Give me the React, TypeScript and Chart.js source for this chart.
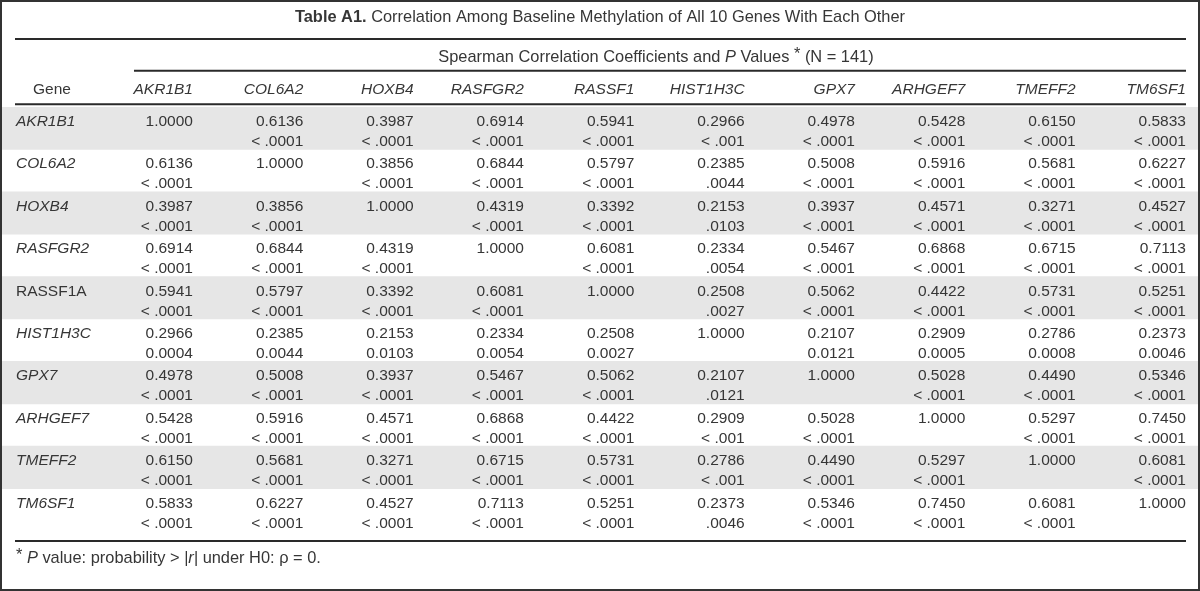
import React, { useEffect, useRef } from 'react';
import { Chart, registerables } from 'chart.js';

Chart.register(...registerables);

// ---------- data ----------
const genes = ['AKR1B1', 'COL6A2', 'HOXB4', 'RASFGR2', 'RASSF1A', 'HIST1H3C', 'GPX7', 'ARHGEF7', 'TMEFF2', 'TM6SF1'];
const columnHeaders = ['AKR1B1', 'COL6A2', 'HOXB4', 'RASFGR2', 'RASSF1', 'HIST1H3C', 'GPX7', 'ARHGEF7', 'TMEFF2', 'TM6SF1'];

const rAKR1B1 = [1.0, 0.6136, 0.3987, 0.6914, 0.5941, 0.2966, 0.4978, 0.5428, 0.615, 0.5833];
const rCOL6A2 = [0.6136, 1.0, 0.3856, 0.6844, 0.5797, 0.2385, 0.5008, 0.5916, 0.5681, 0.6227];
const rHOXB4 = [0.3987, 0.3856, 1.0, 0.4319, 0.3392, 0.2153, 0.3937, 0.4571, 0.3271, 0.4527];
const rRASFGR2 = [0.6914, 0.6844, 0.4319, 1.0, 0.6081, 0.2334, 0.5467, 0.6868, 0.6715, 0.7113];
const rRASSF1A = [0.5941, 0.5797, 0.3392, 0.6081, 1.0, 0.2508, 0.5062, 0.4422, 0.5731, 0.5251];
const rHIST1H3C = [0.2966, 0.2385, 0.2153, 0.2334, 0.2508, 1.0, 0.2107, 0.2909, 0.2786, 0.2373];
const rGPX7 = [0.4978, 0.5008, 0.3937, 0.5467, 0.5062, 0.2107, 1.0, 0.5028, 0.449, 0.5346];
const rARHGEF7 = [0.5428, 0.5916, 0.4571, 0.6868, 0.4422, 0.2909, 0.5028, 1.0, 0.5297, 0.745];
const rTMEFF2 = [0.615, 0.5681, 0.3271, 0.6715, 0.5731, 0.2786, 0.449, 0.5297, 1.0, 0.6081];
const rTM6SF1 = [0.5833, 0.6227, 0.4527, 0.7113, 0.5251, 0.2373, 0.5346, 0.745, 0.6081, 1.0];

const L4 = '< .0001';
const L3 = '< .001';
const pAKR1B1 = ['', L4, L4, L4, L4, L3, L4, L4, L4, L4];
const pCOL6A2 = [L4, '', L4, L4, L4, '.0044', L4, L4, L4, L4];
const pHOXB4 = [L4, L4, '', L4, L4, '.0103', L4, L4, L4, L4];
const pRASFGR2 = [L4, L4, L4, '', L4, '.0054', L4, L4, L4, L4];
const pRASSF1A = [L4, L4, L4, L4, '', '.0027', L4, L4, L4, L4];
const pHIST1H3C = ['0.0004', '0.0044', '0.0103', '0.0054', '0.0027', '', '0.0121', '0.0005', '0.0008', '0.0046'];
const pGPX7 = [L4, L4, L4, L4, L4, '.0121', '', L4, L4, L4];
const pARHGEF7 = [L4, L4, L4, L4, L4, L3, L4, '', L4, L4];
const pTMEFF2 = [L4, L4, L4, L4, L4, L3, L4, L4, '', L4];
const pTM6SF1 = [L4, L4, L4, L4, L4, '.0046', L4, L4, L4, ''];

const coefRows = [rAKR1B1, rCOL6A2, rHOXB4, rRASFGR2, rRASSF1A, rHIST1H3C, rGPX7, rARHGEF7, rTMEFF2, rTM6SF1];
const pRows = [pAKR1B1, pCOL6A2, pHOXB4, pRASFGR2, pRASSF1A, pHIST1H3C, pGPX7, pARHGEF7, pTMEFF2, pTM6SF1];

const TITLE_BOLD = 'Table A1.';
const TITLE_REST = ' Correlation Among Baseline Methylation of All 10 Genes With Each Other';
const N_SAMPLES = 141;

// axis limits (column k's right edge sits at value k)
const X_MIN = -0.731;
const X_MAX = 10.109;

// ---------- drawing helpers ----------
const FAMILY = '"Liberation Sans", Arial, Helvetica, sans-serif';
const FS = 15.5;
const FS_TEXT = 16.4;
const TEXT = '#363636';
const RULE = '#2a2a2a';
const SHADE = '#e6e6e6';

type Part = { t: string; s?: 'normal' | 'italic' | 'bold'; sup?: boolean };

function fontOf(p: Part, size: number) {
  if (p.s === 'bold') return `bold ${size}px ${FAMILY}`;
  if (p.s === 'italic') return `italic ${size}px ${FAMILY}`;
  return `${size}px ${FAMILY}`;
}

function drawParts(
  ctx: CanvasRenderingContext2D,
  parts: Part[],
  x: number,
  y: number,
  align: 'left' | 'center' | 'right',
  size = FS
) {
  let total = 0;
  parts.forEach((p) => {
    ctx.font = fontOf(p, size);
    total += ctx.measureText(p.t).width;
  });
  let cx = align === 'center' ? x - total / 2 : align === 'right' ? x - total : x;
  ctx.textAlign = 'left';
  ctx.textBaseline = 'middle';
  ctx.fillStyle = TEXT;
  parts.forEach((p) => {
    ctx.font = fontOf(p, size);
    ctx.fillText(p.t, cx, y + (p.sup ? -3 : 0));
    cx += ctx.measureText(p.t).width;
  });
}

function rule(ctx: CanvasRenderingContext2D, x1: number, x2: number, y: number, w = 2) {
  ctx.save();
  ctx.strokeStyle = RULE;
  ctx.lineWidth = w;
  ctx.beginPath();
  ctx.moveTo(x1, y);
  ctx.lineTo(x2, y);
  ctx.stroke();
  ctx.restore();
}

const tablePlugin = {
  id: 'tableText',
  afterDraw(chart: any) {
    const { ctx, chartArea } = chart;
    const xs = chart.scales.x;
    const ys = chart.scales.y;
    const top = chartArea.top;
    const bottom = chartArea.bottom;
    const L = chartArea.left + 13;
    const R = chartArea.right - 12;
    ctx.save();

    // title
    drawParts(ctx, [{ t: TITLE_BOLD, s: 'bold' }, { t: TITLE_REST }], chart.width / 2, top - 89.5, 'center', FS_TEXT);
    rule(ctx, L, R, top - 68);

    // spanner header
    const spanL = xs.getPixelForValue(1) - 59;
    drawParts(
      ctx,
      [
        { t: 'Spearman Correlation Coefficients and ' },
        { t: 'P', s: 'italic' },
        { t: ' Values ' },
        { t: '*', sup: true },
        { t: ` (N = ${N_SAMPLES})` },
      ],
      (spanL + R) / 2 - 4,
      top - 50,
      'center',
      FS_TEXT
    );
    rule(ctx, spanL, R, top - 36.3);

    // column headers
    drawParts(ctx, [{ t: 'Gene' }], L + 18, top - 17.7, 'left');
    columnHeaders.forEach((h, j) => {
      drawParts(ctx, [{ t: h, s: 'italic' }], xs.getPixelForValue(j + 1), top - 17.7, 'right');
    });
    rule(ctx, L, R, top - 2.7);

    // cells
    const band = ys.getPixelForValue(1) - ys.getPixelForValue(0);
    genes.forEach((g, i) => {
      const c = ys.getPixelForValue(i);
      const y1 = c - band / 2 + 14.7;
      const y2 = y1 + 20;
      coefRows[i].forEach((v, j) => {
        const x = xs.getPixelForValue(j + 1);
        drawParts(ctx, [{ t: v.toFixed(4) }], x, y1, 'right');
        const p = pRows[i][j];
        if (p) drawParts(ctx, [{ t: p }], x, y2, 'right');
      });
    });

    // bottom rule + footnote
    rule(ctx, L, R, bottom + 10);
    drawParts(
      ctx,
      [
        { t: '*', sup: true },
        { t: ' ' },
        { t: 'P', s: 'italic' },
        { t: ' value: probability > ' },
        { t: '|r|', s: 'italic' },
        { t: ' under H0: ρ = 0.' },
      ],
      L + 1,
      bottom + 27,
      'left',
      FS_TEXT
    );

    // frame
    ctx.strokeStyle = '#333';
    ctx.lineWidth = 2;
    ctx.strokeRect(1, 1, chart.width - 2, chart.height - 2);
    ctx.restore();
  },
};

export default function App() {
  const ref = useRef<HTMLCanvasElement | null>(null);

  useEffect(() => {
    document.body.style.margin = '0';
    if (!ref.current) return;
    const chart = new Chart(ref.current, {
      type: 'bar',
      data: {
        labels: genes,
        datasets: [
          {
            label: 'row shading',
            data: genes.map((_, i) => (i % 2 === 0 ? [X_MIN, X_MAX] : null)) as any,
            backgroundColor: SHADE,
            borderWidth: 0,
            barPercentage: 1,
            categoryPercentage: 1,
          },
        ],
      },
      options: {
        indexAxis: 'y',
        responsive: false,
        animation: false,
        events: [],
        layout: { padding: { left: 2, right: 2, top: 107, bottom: 60 } },
        plugins: { legend: { display: false }, tooltip: { enabled: false }, title: { display: false } },
        scales: {
          x: { type: 'linear', min: X_MIN, max: X_MAX, display: false },
          y: {
            type: 'category',
            position: 'left',
            offset: true,
            grid: { display: false, drawTicks: false },
            border: { display: false },
            afterFit: (s: any) => {
              s.width = 0;
            },
            ticks: {
              z: 1,
              mirror: true,
              padding: 14,
              labelOffset: -6.5,
              color: TEXT,
              autoSkip: false,
              font: (c: any) => ({
                family: FAMILY,
                size: FS,
                style: genes[c.index] === 'RASSF1A' ? 'normal' : 'italic',
              }),
            },
          },
        },
      },
      plugins: [tablePlugin],
    });
    return () => chart.destroy();
  }, []);

  return (
    <div style={{ width: 1200, height: 591, background: '#fff' }}>
      <canvas ref={ref} width={1200} height={591} style={{ display: 'block' }} />
    </div>
  );
}
